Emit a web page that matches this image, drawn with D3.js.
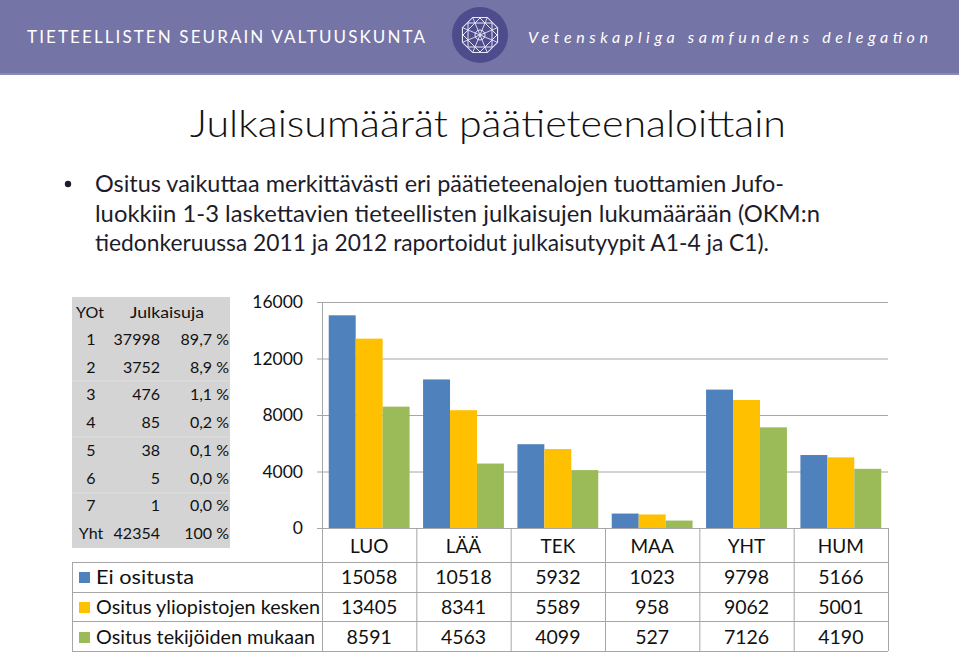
<!DOCTYPE html>
<html><head><meta charset="utf-8">
<script src="https://cdn.jsdelivr.net/npm/d3@7"></script>
<style>
html,body{margin:0;padding:0;background:#fff;}
svg{display:block;font-family:Lato,"Open Sans",sans-serif;}
</style></head>
<body>
<svg id="c" width="959" height="655"></svg>
<script>
const categories = ["LUO","LÄÄ","TEK","MAA","YHT","HUM"];
const seriesNames = ["Ei ositusta","Ositus yliopistojen kesken","Ositus tekijöiden mukaan"];
const eiOsitusta = [15058,10518,5932,1023,9798,5166];
const ositusYliopistot = [13405,8341,5589,958,9062,5001];
const ositusTekijat = [8591,4563,4099,527,7126,4190];
const seriesColors = ["#4f81bd","#ffc000","#9bbb59"];
const yTicks = [0,4000,8000,12000,16000];
const yotLevels = ["1","2","3","4","5","6","7","Yht"];
const yotCounts = ["37998","3752","476","85","38","5","1","42354"];
const yotShares = ["89,7 %","8,9 %","1,1 %","0,2 %","0,1 %","0,0 %","0,0 %","100 %"];
const bulletLines = ["Ositus vaikuttaa merkittävästi eri päätieteenalojen tuottamien Jufo-",
 "luokkiin 1-3 laskettavien tieteellisten julkaisujen lukumäärään (OKM:n",
 "tiedonkeruussa 2011 ja 2012 raportoidut julkaisutyypit A1-4 ja C1)."];

const series = [eiOsitusta, ositusYliopistot, ositusTekijat];
const svg = d3.select("#c");

// Header band
svg.append("rect").attr("x",0).attr("y",0).attr("width",959).attr("height",75).attr("fill","#7574a6");
svg.append("rect").attr("x",0).attr("y",73).attr("width",959).attr("height",2).attr("fill","#8a89b5");
svg.append("text").attr("x",27).attr("y",43).attr("fill","#fff")
  .attr("font-family","Lato, sans-serif").attr("font-size",17)
  .attr("textLength",398).attr("lengthAdjust","spacing")
  .text("TIETEELLISTEN SEURAIN VALTUUSKUNTA");
svg.append("text").attr("x",528).attr("y",43).attr("fill","#fff")
  .attr("font-family","Lato, sans-serif").attr("font-style","italic").attr("font-size",16)
  .attr("textLength",400).attr("lengthAdjust","spacing")
  .text("Vetenskapliga samfundens delegation");

// Logo
const lg = svg.append("g").attr("transform","translate(480,35)");
lg.append("circle").attr("r",28).attr("fill","#4d4c8c");
const oct = d3.range(8).map(i=>{const a=Math.PI/8+i*Math.PI/4;return [19*Math.cos(a),19*Math.sin(a)];});
lg.append("polygon").attr("points",oct.map(p=>p.join(",")).join(" ")).attr("fill","none").attr("stroke","#e8e8f4").attr("stroke-width",1.1);
lg.append("rect").attr("x",-12).attr("y",-12).attr("width",24).attr("height",24).attr("fill","none").attr("stroke","#e8e8f4").attr("stroke-width",1);
lg.append("polygon").attr("points","0,-17 17,0 0,17 -17,0").attr("fill","none").attr("stroke","#e8e8f4").attr("stroke-width",1);
[[-17.5,-7.3,17.5,7.3],[-17.5,7.3,17.5,-7.3],[-7.3,-17.5,7.3,17.5],[7.3,-17.5,-7.3,17.5]].forEach(l=>{
  lg.append("line").attr("x1",l[0]).attr("y1",l[1]).attr("x2",l[2]).attr("y2",l[3]).attr("stroke","#e8e8f4").attr("stroke-width",0.9);
});
lg.append("circle").attr("r",5).attr("fill","none").attr("stroke","#e8e8f4").attr("stroke-width",1);

// Title
svg.append("text").attr("x",488).attr("y",137).attr("text-anchor","middle").attr("fill","#111")
  .attr("font-size",37).attr("font-weight",300).attr("textLength",596).attr("lengthAdjust","spacingAndGlyphs")
  .text("Julkaisumäärät päätieteenaloittain");

// Bullet
svg.append("circle").attr("cx",68).attr("cy",184).attr("r",3.2).attr("fill","#1c1c2c");
const bl = [{y:192,w:689},{y:222,w:725},{y:251,w:674}];
bulletLines.forEach((t,i)=>{
  svg.append("text").attr("x",95).attr("y",bl[i].y).attr("fill","#1c1c2c").attr("font-size",22.5)
    .attr("textLength",bl[i].w).attr("lengthAdjust","spacingAndGlyphs").text(t);
});

// Left YOt table
const lt = svg.append("g");
lt.append("rect").attr("x",72).attr("y",297).attr("width",158).attr("height",251).attr("fill","#d4d4d4");
[381,437,493].forEach(y=>lt.append("line").attr("x1",72).attr("x2",230).attr("y1",y).attr("y2",y).attr("stroke","#dedede").attr("stroke-width",1));
const ltf = 16;
lt.append("text").attr("x",90).attr("y",318).attr("text-anchor","middle").attr("font-size",ltf).attr("fill","#111").text("YOt");
lt.append("text").attr("x",167).attr("y",318).attr("text-anchor","middle").attr("font-size",ltf).attr("fill","#111")
  .attr("textLength",74).attr("lengthAdjust","spacingAndGlyphs").text("Julkaisuja");
const rowY = d3.scaleLinear().domain([0,7]).range([345,539]);
yotLevels.forEach((v,i)=>{
  const y = rowY(i);
  lt.append("text").attr("x",91).attr("y",y).attr("text-anchor","middle").attr("font-size",ltf).attr("fill","#111").text(v);
  lt.append("text").attr("x",160).attr("y",y).attr("text-anchor","end").attr("font-size",ltf).attr("fill","#111").text(yotCounts[i]);
  lt.append("text").attr("x",229).attr("y",y).attr("text-anchor","end").attr("font-size",ltf).attr("fill","#111").text(yotShares[i]);
});

// Chart
const x0 = 322, x1 = 888;
const y = d3.scaleLinear().domain([0,16000]).range([528,302]);
const xb = d3.scaleBand().domain(categories).range([x0,x1]).paddingInner(0).paddingOuter(0);

// gridlines
svg.append("g").selectAll("line").data(yTicks.filter(d=>d>0)).join("line")
  .attr("x1",x0).attr("x2",x1).attr("y1",d=>y(d)+0.5).attr("y2",d=>y(d)+0.5)
  .attr("stroke","#a6a6a6").attr("stroke-width",1);

const yAxis = svg.append("g").attr("transform",`translate(${x0},0)`)
  .call(d3.axisLeft(y).tickValues(yTicks).tickSize(5).tickPadding(14).tickFormat(d3.format("d")));
yAxis.select(".domain").attr("stroke","#a6a6a6");
yAxis.selectAll(".tick line").attr("stroke","#a6a6a6");
yAxis.selectAll("text").attr("font-family","Lato, sans-serif").attr("font-size",17.5).attr("fill","#111");

// bars
const bw = xb.bandwidth()/3.5;
series.forEach((s,si)=>{
  svg.append("g").selectAll("rect").data(s).join("rect")
    .attr("x",(d,i)=>xb(categories[i]) + bw*0.25 + si*bw)
    .attr("y",d=>y(d)).attr("width",bw).attr("height",d=>y(0)-y(d))
    .attr("fill",seriesColors[si]);
});

// Data table
const tg = svg.append("g");
const bc = "#a6a6a6";
tg.append("line").attr("x1",x0).attr("x2",x1).attr("y1",528.5).attr("y2",528.5).attr("stroke",bc);
[562,592,621,651].forEach(yy=>tg.append("line").attr("x1",72).attr("x2",x1).attr("y1",yy+0.5).attr("y2",yy+0.5).attr("stroke",bc));
tg.append("line").attr("x1",72.5).attr("x2",72.5).attr("y1",562).attr("y2",651).attr("stroke",bc);
categories.forEach((c,i)=>{
  const xx = xb(c);
  tg.append("line").attr("x1",xx+0.5).attr("x2",xx+0.5).attr("y1",528).attr("y2",651).attr("stroke",bc);
});
tg.append("line").attr("x1",x1+0.5).attr("x2",x1+0.5).attr("y1",528).attr("y2",651).attr("stroke",bc);
categories.forEach(c=>{
  tg.append("text").attr("x",xb(c)+xb.bandwidth()/2).attr("y",553).attr("text-anchor","middle")
    .attr("font-size",19).attr("fill","#111").text(c);
});
const textY = [584,614,644];
const legendW = [98,224,219];
series.forEach((s,si)=>{
  tg.append("rect").attr("x",79).attr("y",textY[si]-12).attr("width",11).attr("height",11).attr("fill",seriesColors[si]);
  tg.append("text").attr("x",96).attr("y",textY[si]).attr("font-size",19.5).attr("fill","#111")
    .attr("textLength",legendW[si]).attr("lengthAdjust","spacingAndGlyphs").text(seriesNames[si]);
  s.forEach((v,i)=>{
    tg.append("text").attr("x",xb(categories[i])+xb.bandwidth()/2).attr("y",textY[si]).attr("text-anchor","middle")
      .attr("font-size",19.5).attr("fill","#111").text(v);
  });
});
</script>
</body></html>
